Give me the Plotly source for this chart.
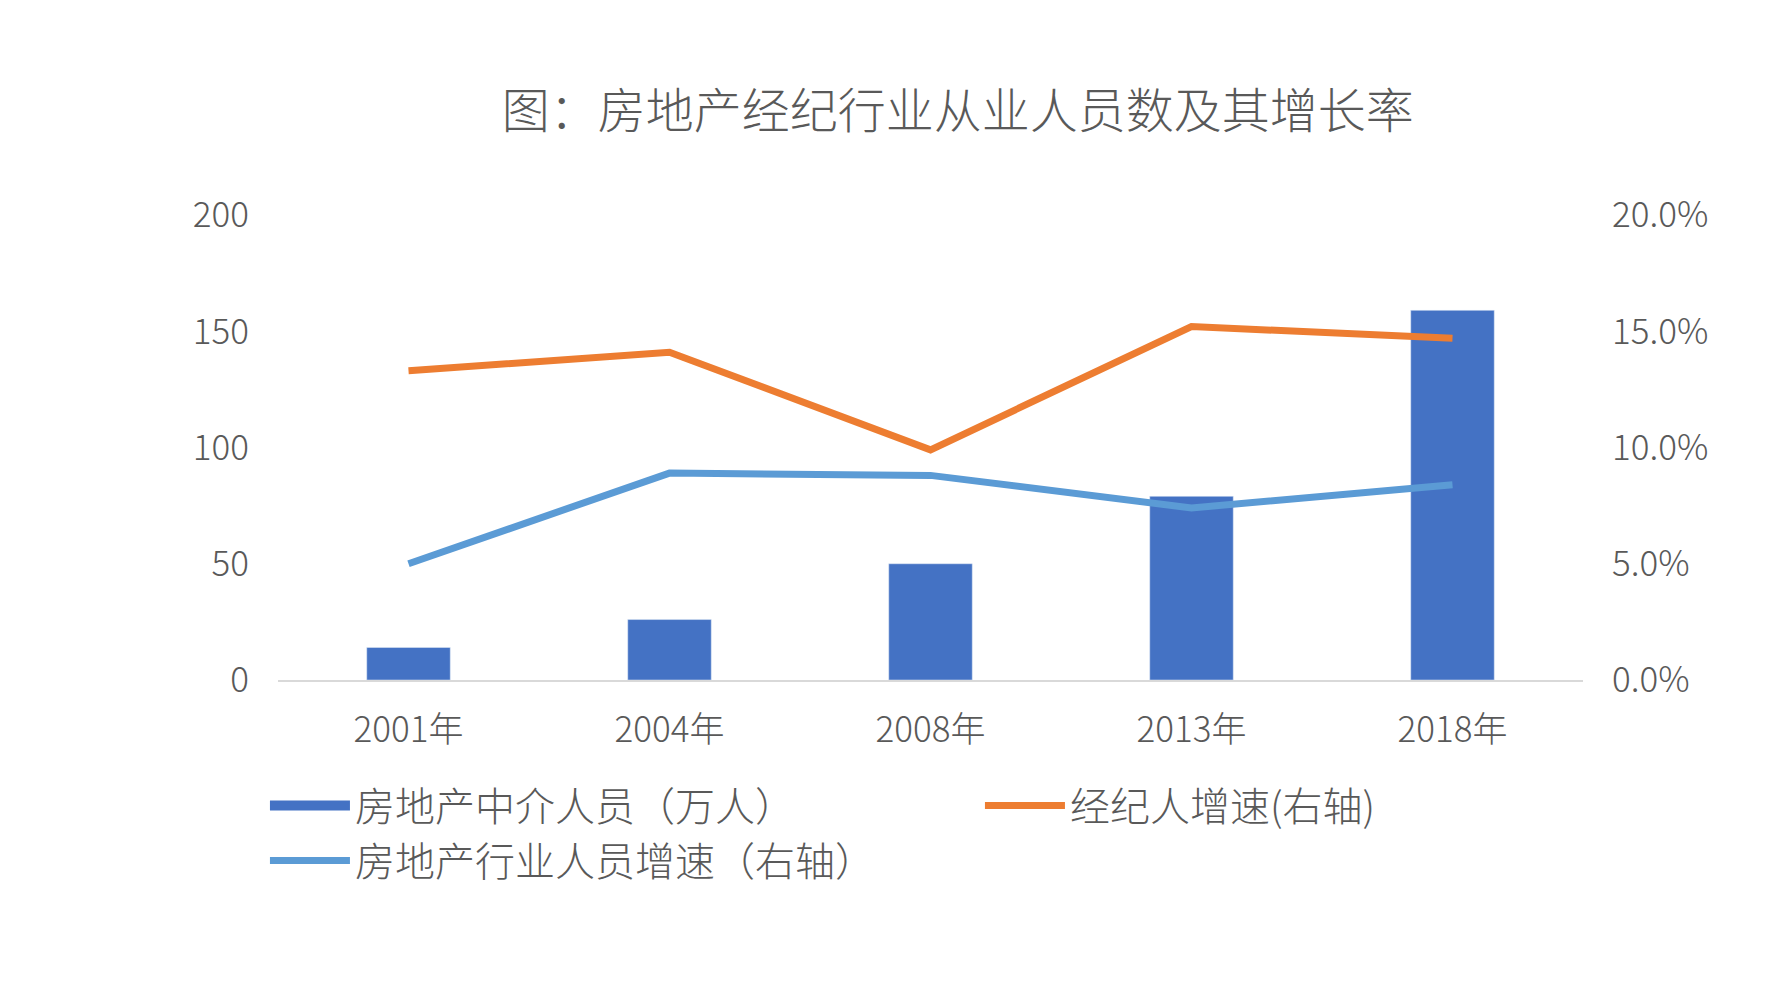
import plotly.graph_objects as go

years = ["2001年", "2004年", "2008年", "2013年", "2018年"]
agents = [14, 26, 50, 79, 159]
broker_growth = [0.133, 0.141, 0.099, 0.152, 0.147]
industry_growth = [0.050, 0.089, 0.088, 0.074, 0.084]

FONT = "Noto Sans CJK SC"
GREY = "#595959"
BLUE = "#4472C4"

fig = go.Figure()
fig.add_trace(go.Bar(x=years, y=agents, name="房地产中介人员（万人）",
                     marker_color=BLUE, width=0.32, showlegend=False))
# thick line used only as the legend swatch for the bars
fig.add_trace(go.Scatter(x=[years[0]], y=[None], name="房地产中介人员（万人）",
                         mode="lines", line={"color": BLUE, "width": 22}, hoverinfo="skip"))
fig.add_trace(go.Scatter(x=years, y=broker_growth, name="经纪人增速(右轴)", yaxis="y2",
                         mode="lines", line={"color": "#ED7D31", "width": 7}))
fig.add_trace(go.Scatter(x=years, y=industry_growth, name="房地产行业人员增速（右轴）", yaxis="y2",
                         mode="lines", line={"color": "#5B9BD5", "width": 7}))

fig.update_layout(
    width=1792, height=986,
    margin={"l": 270, "r": 217, "t": 207, "b": 314},
    paper_bgcolor="white", plot_bgcolor="white",
    font={"family": FONT, "color": GREY, "size": 35, "weight": 300},
    title={"text": "图：房地产经纪行业从业人员数及其增长率", "x": 0.53, "xanchor": "center",
           "y": 0.895, "yanchor": "middle", "font": {"size": 48, "weight": 300}},
    xaxis={"showline": True, "linecolor": "#D9D9D9", "linewidth": 2, "ticks": "",
           "ticklabelstandoff": 18},
    yaxis={"range": [0, 200], "dtick": 50, "showgrid": False, "zeroline": False,
           "ticklabelstandoff": 28},
    yaxis2={"range": [0, 0.2], "dtick": 0.05, "tickformat": ".1%", "overlaying": "y",
            "side": "right", "showgrid": False, "zeroline": False, "ticklabelstandoff": 28},
    legend={"orientation": "h", "x": -0.01, "xanchor": "left", "y": -0.2, "yanchor": "top",
            "entrywidth": 620, "entrywidthmode": "pixels", "font": {"size": 40},
            "itemwidth": 80},
    showlegend=True,
)

fig.write_html("out.html")
